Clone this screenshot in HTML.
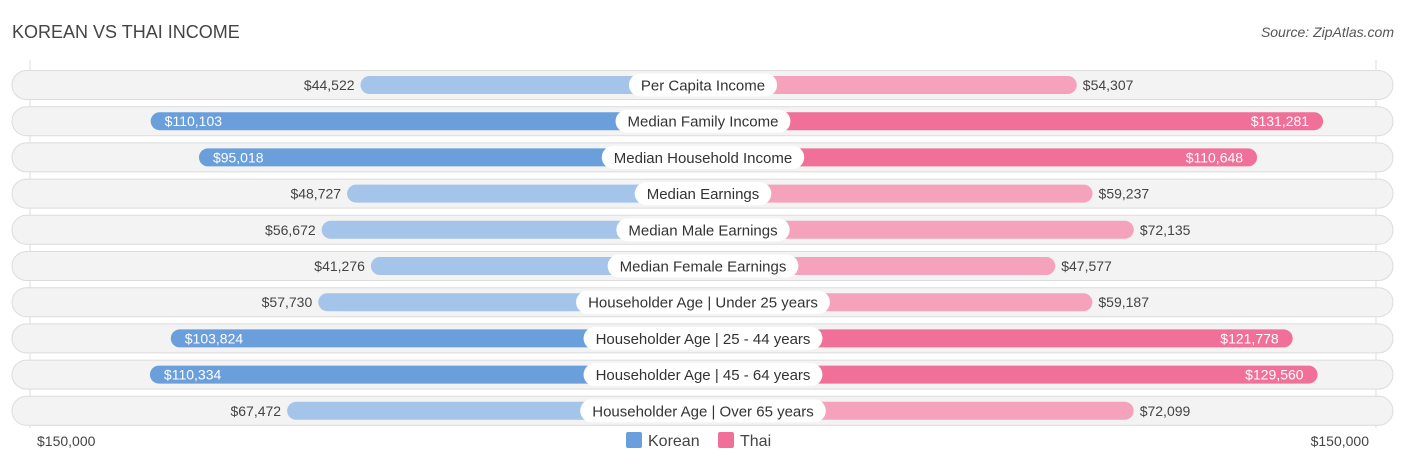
<!DOCTYPE html>
<html><head><meta charset="utf-8"><style>
body{margin:0;width:1406px;height:467px;background:#fff;font-family:"Liberation Sans",sans-serif;overflow:hidden;position:relative}
.t{position:absolute;white-space:nowrap}
</style></head><body>
<div class="t" style="left:12px;top:22px;font-size:18px;color:#444">KOREAN VS THAI INCOME</div>
<div class="t" style="right:12px;top:24px;font-size:14px;color:#555;font-style:italic">Source: ZipAtlas.com</div>
<svg id="c" width="1406" height="467" style="position:absolute;left:0;top:0"></svg>
<div class="t" style="left:37px;top:433px;font-size:14px;color:#444">$150,000</div>
<div class="t" style="right:37px;top:433px;font-size:14px;color:#444">$150,000</div>
<div class="t" style="left:626px;top:432px;font-size:16px;color:#444"><span style="display:inline-block;width:16px;height:16px;background:#6a9fdc;border-radius:2px;vertical-align:-2px;margin-right:6px"></span>Korean</div>
<div class="t" style="left:718px;top:432px;font-size:16px;color:#444"><span style="display:inline-block;width:16px;height:16px;background:#f07099;border-radius:2px;vertical-align:-2px;margin-right:6px"></span>Thai</div>
<script>
const categories=["Per Capita Income","Median Family Income","Median Household Income","Median Earnings","Median Male Earnings","Median Female Earnings","Householder Age | Under 25 years","Householder Age | 25 - 44 years","Householder Age | 45 - 64 years","Householder Age | Over 65 years"];
const korean=[44522,110103,95018,48727,56672,41276,57730,103824,110334,67472];
const thai=[54307,131281,110648,59237,72135,47577,59187,121778,129560,72099];
const svg=document.getElementById('c');const NS='http://www.w3.org/2000/svg';
const cx=703;
function xs(v){return 200+v*3.2/1000;}
function rowY(i){return 85+i*36.2;}
function fmt(v){return '$'+v.toLocaleString('en-US');}
function mk(t,a){const e=document.createElementNS(NS,t);for(const k in a)e.setAttribute(k,a[k]);svg.appendChild(e);return e;}
const gl=mk('line',{x1:30,x2:30,y1:60,y2:428,stroke:'#ddd','stroke-width':1});


const gr=mk('line',{x1:1376,x2:1376,y1:60,y2:428,stroke:'#ddd','stroke-width':1});


categories.forEach((cat,i)=>{
 const y=rowY(i);
 const bg=mk('rect',{x:12,y:y-14.5,width:1381,height:29,rx:14.5,fill:'#f3f3f3',stroke:'#dcdcdc','stroke-width':1});
 
 
 const kw=xs(korean[i]),tw=xs(thai[i]);
 const kd=korean[i]>90000,td=thai[i]>90000;
 const kb=mk('rect',{x:cx-kw,y:y-9,width:kw,height:18,rx:9,fill:kd?'#6a9fdc':'#a4c4ea'});
 
 
 const tb=mk('rect',{x:cx,y:y-9,width:tw,height:18,rx:9,fill:td?'#f07099':'#f5a3bd'});
 
 
 const kl=mk('text',{x:kd?cx-kw+14:cx-kw-6,y:y+5,'font-size':14,fill:kd?'#fff':'#444','text-anchor':kd?'start':'end'});
 kl.textContent=fmt(korean[i]);
 
 
 const tl=mk('text',{x:td?cx+tw-14:cx+tw+6,y:y+5,'font-size':14,fill:td?'#fff':'#444','text-anchor':td?'end':'start'});
 tl.textContent=fmt(thai[i]);
 
 
 const lt=mk('text',{x:cx,y:y+5.5,'font-size':15,fill:'#333','text-anchor':'middle'});
 lt.textContent=cat;
 const w=lt.getComputedTextLength()+24;
 const pill=mk('rect',{x:cx-w/2,y:y-11.5,width:w,height:23,rx:11.5,fill:'#fff'});
 svg.insertBefore(pill,lt);
 
 
 
 
});
</script>
</body></html>
